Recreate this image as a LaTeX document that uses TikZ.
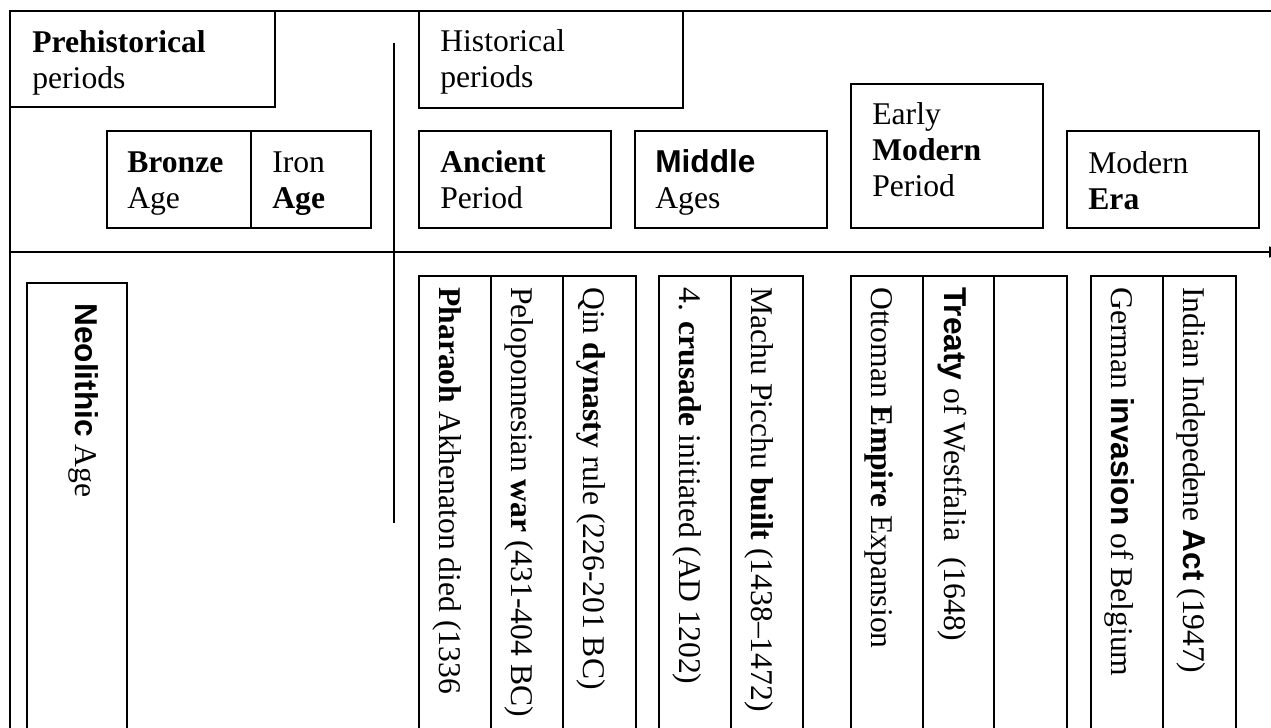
\documentclass[tikz,border=0pt]{standalone}
\usepackage{fontspec}
\setmainfont{Liberation Serif}
\setsansfont{Liberation Sans}
\usetikzlibrary{arrows.meta,positioning,fit}

\begin{document}
\begin{tikzpicture}[x=0.02cm, y=-0.02cm,
        period/.style={draw, line width=0.75pt, inner sep=0pt},
        lbl/.style={anchor=base west, align=left, inner sep=0pt, font=\fontsize{18pt}{20.4pt}\selectfont},
        event/.style={anchor=base west, rotate=-90, inner sep=0pt, font=\fontsize{18pt}{20.4pt}\selectfont}
    ]
    \useasboundingbox (0,0) rectangle (1271,727);
    \clip (0,0) rectangle (1271,727);
    % Frame
    \coordinate (topL) at (10,11);
    \coordinate (topR) at (1280,11);
    \coordinate (botL) at (10,760);
    \draw[line width=1.3pt] (topR) -- (topL) -- (botL);
    % Time axis
    \coordinate (axisL) at (10,252);
    \coordinate (axisR) at (1284,252);
    \draw[line width=1.1pt, -{Latex[length=0.3cm, width=0.24cm]}] (axisL) -- (axisR);
    % Divider
    \coordinate (divT) at (394,43);
    \coordinate (divB) at (394,523);
    \draw[line width=0.85pt] (divT) -- (divB);
    % Prehistorical periods
    \node[period, fit={(10,11) (275,107)}] (prehist) {};
    \node[lbl] (prehistT) at (32,88) {\textbf{Prehistorical}\\periods};
    \node[period, fit={(107,131) (251,228)}] (bronze) {};
    \node[lbl] (bronzeT) at (127,208) {\textbf{Bronze}\\Age};
    \node[period, fit={(251,131) (371,228)}] (iron) {};
    \node[lbl] (ironT) at (272,208) {Iron\\\textbf{Age}};
    \node[period, fit={(27,283) (127,760)}] (neo) {};
    \node[event] (neoT) at (75,303) {\textsf{\bfseries Neolithic} Age};
    % Historical periods
    \node[period, fit={(419,11) (683,108)}] (hist) {};
    \node[lbl] (histT) at (440,87) {Historical\\periods};
    \node[period, fit={(419,131) (611,228)}] (ancient) {};
    \node[lbl] (ancientT) at (440,208) {\textbf{Ancient}\\Period};
    \node[period, fit={(635,131) (827,228)}] (middle) {};
    \node[lbl] (middleT) at (655,208) {\textsf{\bfseries Middle}\\Ages};
    \node[period, fit={(851,84) (1043,228)}] (early) {};
    \node[lbl] (earlyT) at (872,196) {Early\\\textbf{Modern}\\Period};
    \node[period, fit={(1067,131) (1259,228)}] (modern) {};
    \node[lbl] (modernT) at (1088,209) {Modern\\\textbf{Era}};
    % Ancient events
    \node[period, fit={(419,276) (491,760)}] (pharaoh) {};
    \node[event] (pharaohT) at (439,287) {\textbf{Pharaoh} Akhenaton died (1336};
    \node[period, fit={(491,276) (563,760)}] (pelop) {};
    \node[event] (pelopT) at (511,287) {Peloponnesian \textbf{war} (431-404 BC)};
    \node[period, fit={(563,276) (636,760)}] (qin) {};
    \node[event] (qinT) at (583,287) {Qin \textbf{dynasty} rule (226-201 BC)};
    % Middle Ages events
    \node[period, fit={(659,276) (731,760)}] (crusade) {};
    \node[event] (crusadeT) at (679,287) {4. \textbf{crusade} initiated (AD 1202)};
    \node[period, fit={(731,276) (803,760)}] (machu) {};
    \node[event] (machuT) at (751,287) {Machu Picchu \textbf{built} (1438--1472)};
    % Early Modern events
    \node[period, fit={(851,276) (923,760)}] (ottoman) {};
    \node[event] (ottomanT) at (871,287) {Ottoman \textbf{Empire} Expansion};
    \node[period, fit={(923,276) (994,760)}] (treaty) {};
    \node[event] (treatyT) at (944,287) {\textsf{\bfseries Treaty} of Westfalia\ \ (1648)};
    \node[period, fit={(994,276) (1067,760)}] (blank) {};
    % Modern Era events
    \node[period, fit={(1091,276) (1163,760)}] (german) {};
    \node[event] (germanT) at (1111,287) {German \textsf{\bfseries invasion} of Belgium};
    \node[period, fit={(1163,276) (1236,760)}] (indian) {};
    \node[event] (indianT) at (1183,287) {Indian Indepedene \textsf{\bfseries Act} (1947)};
\end{tikzpicture}
\end{document}
